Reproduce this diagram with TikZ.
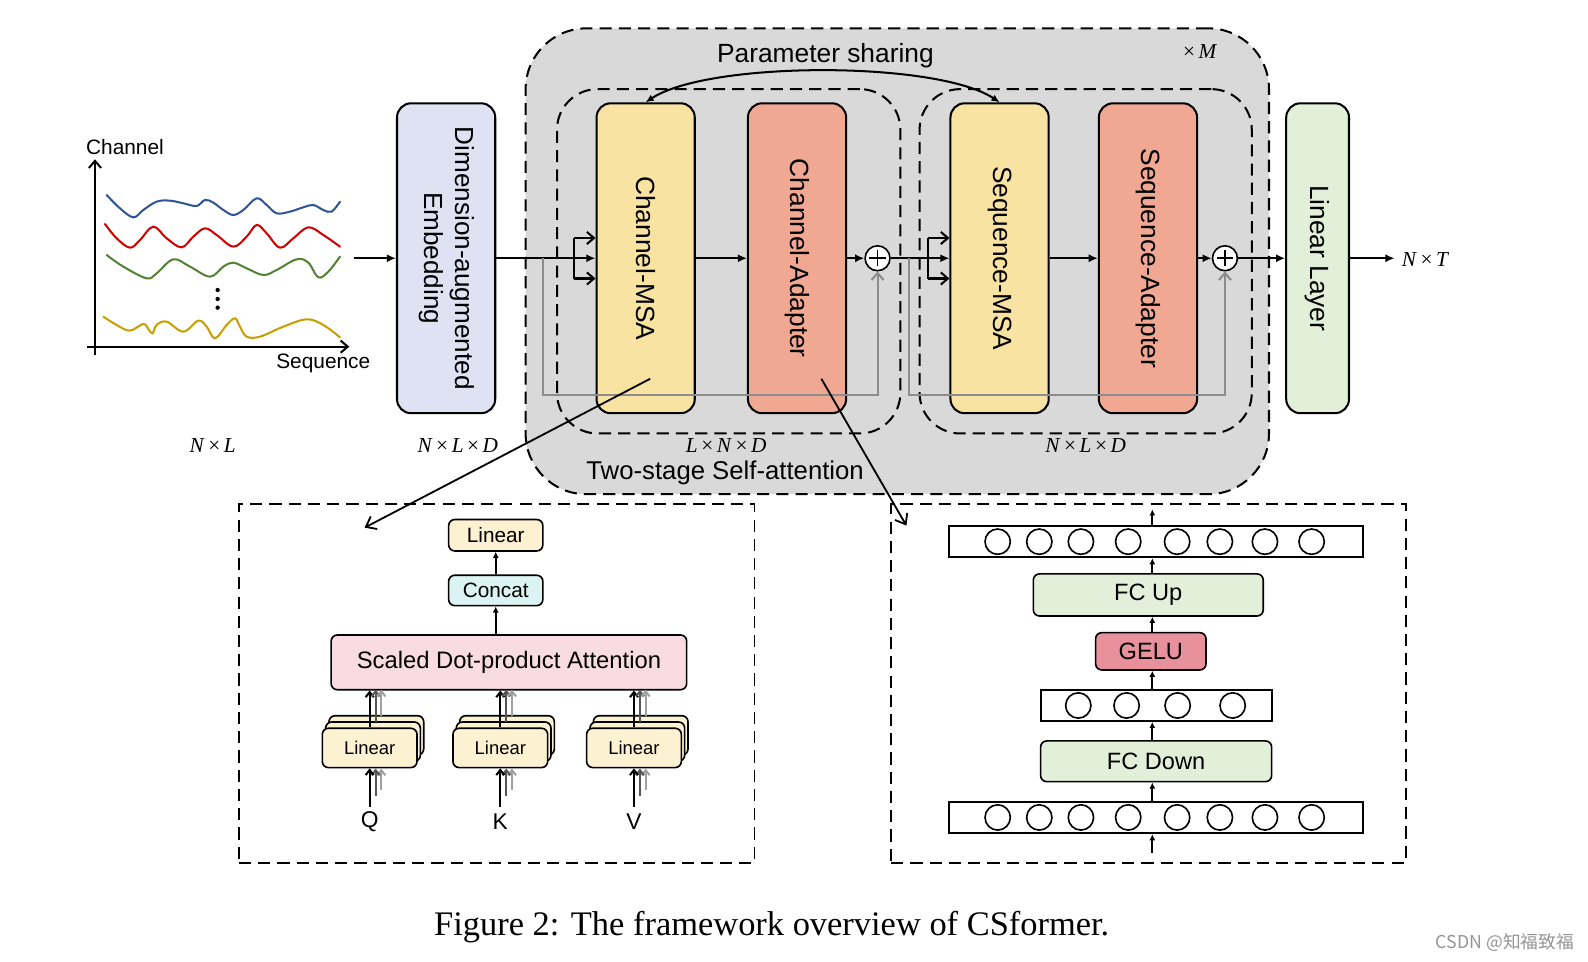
\documentclass[tikz,border=0pt]{standalone}
\usepackage{fontspec}
\usepackage{graphicx}
\setmainfont{Liberation Sans}
\newfontfamily\tms{Liberation Serif}
\newfontfamily\cjk{Noto Sans CJK SC}
\usetikzlibrary{arrows.meta,calc}
\newcommand\fsz[2]{\fontsize{#1}{#2}\selectfont}
\newcommand\tm{\,\textup{×}\,}
\definecolor{gbg}{HTML}{D9D9D9}
\definecolor{lav}{HTML}{DEE2F3}
\definecolor{ylw}{HTML}{F9E3A3}
\definecolor{slm}{HTML}{F0A892}
\definecolor{lgr}{HTML}{E2F0D9}
\definecolor{crm}{HTML}{FCF1D1}
\definecolor{cyn}{HTML}{DBF3F3}
\definecolor{pnk}{HTML}{F9DCE3}
\definecolor{gelu}{HTML}{E8919D}
\definecolor{cblue}{HTML}{2F5597}
\definecolor{cred}{HTML}{D00000}
\definecolor{cgreen}{HTML}{548235}
\definecolor{cyel}{HTML}{C79F00}
\definecolor{resg}{HTML}{8C8C8C}
\definecolor{dkg}{HTML}{555555}
\definecolor{ltg}{HTML}{A0A0A0}
\tikzset{
  blk/.style={draw=black, line width=2pt, rounded corners=14pt, minimum width=97pt, minimum height=306pt, inner sep=0pt, font=\fsz{26}{30}},
  dsh/.style={draw=black, line width=2pt, dash pattern=on 12pt off 7pt},
  arr/.style={line width=2pt, -{Latex[length=9pt,width=8pt]}},
  barb/.style={line width=2pt, -{Straight Barb[length=7pt,width=12pt]}},
  res/.style={line width=2pt, draw=resg, -{Straight Barb[length=7pt,width=12pt]}},
  sbox/.style={draw=black, line width=1.6pt, rounded corners=6pt, inner sep=0pt},
  stk/.style={sbox, fill=crm, minimum width=93.5pt, minimum height=38.8pt, font=\fsz{18.2}{21}},
  lay/.style={draw=black, line width=1.8pt, inner sep=0pt},
  neu/.style={circle, draw=black, line width=1.6pt, fill=white, minimum size=25pt, inner sep=0pt},
  sa/.style={line width=1.8pt, -{Latex[length=6pt,width=6pt]}},
  ka/.style={line width=2pt, -{Straight Barb[length=5pt,width=8pt]}},
  mlab/.style={font=\tms\fsz{21}{25}},
  crv/.style={line width=2pt, line cap=round},
  zl/.style={line width=1.8pt, -{Straight Barb[length=9pt,width=14pt]}},
}
\begin{document}
\begin{tikzpicture}[x=1pt,y=-1pt, every node/.style={inner sep=0pt}]
\useasboundingbox (0,0) rectangle (1568,949);

% ---------------- chart
\begin{scope}[shift={(69.11,118.48)}, x=0.32912pt, y=-0.32912pt]
  \draw[line width=2pt, -{Straight Barb[length=7pt,width=12pt]}] (75,705) -- (75,118);
  \draw[line width=2pt, -{Straight Barb[length=7pt,width=12pt]}] (52,680) -- (838,680);
  \node[font=\fsz{20.6}{24}] (chl) at (165,80) {Channel};
  \node[font=\fsz{20.6}{24}] (sql) at (760,730) {Sequence};
  \draw[crv, cblue] plot[smooth, tension=0.6] coordinates {(110,225) (150,265) (190,292) (220,270) (260,245) (300,242) (340,250) (380,258) (405,240) (430,248) (460,270) (490,285) (520,270) (560,235) (590,255) (620,280) (660,275) (700,262) (730,255) (760,270) (785,275) (810,245)};
  \draw[crv, cred] plot[smooth, tension=0.6] coordinates {(105,312) (140,355) (180,383) (210,360) (250,320) (290,355) (335,382) (370,350) (405,325) (440,345) (490,380) (530,350) (560,315) (590,340) (630,383) (670,355) (715,322) (760,345) (810,380)};
  \draw[crv, cgreen] plot[smooth, tension=0.6] coordinates {(110,405) (160,440) (230,475) (260,460) (310,418) (360,440) (420,470) (460,440) (490,428) (530,445) (580,465) (620,450) (680,418) (715,428) (745,472) (775,455) (810,410)};
  \draw[crv, cyel] plot[smooth, tension=0.6] coordinates {(100,590) (140,615) (180,632) (220,612) (237,630) (248,640) (260,615) (290,605) (340,635) (385,602) (410,620) (435,655) (470,615) (495,595) (510,620) (530,650) (570,650) (640,620) (710,598) (760,615) (810,652)};
  \fill (443,510) circle (6.5) (443,537) circle (6.5) (443,563) circle (6.5);
\end{scope}

% ---------------- outer frames
\node[dsh, fill=gbg, rounded corners=60pt, minimum width=734pt, minimum height=460pt] (outer) at (886,258) {};
\node[dsh, rounded corners=40pt, minimum width=339pt, minimum height=340pt] (in1) at (719.5,258) {};
\node[dsh, rounded corners=40pt, minimum width=328pt, minimum height=340pt] (in2) at (1072,258) {};

% ---------------- main blocks
\node[blk, fill=lav, font=\fsz{25.8}{30}] (emb) at (440.5,255) {\rotatebox{-90}{\begin{tabular}{@{}c@{}}Dimension-augmented\\Embedding\end{tabular}}};
\node[blk, fill=ylw] (cmsa) at (637.5,255) {\rotatebox{-90}{Channel-MSA}};
\node[blk, fill=slm] (cad) at (787,255) {\rotatebox{-90}{Channel-Adapter}};
\node[blk, fill=ylw] (smsa) at (987,255) {\rotatebox{-90}{Sequence-MSA}};
\node[blk, fill=slm] (sad) at (1133.5,255) {\rotatebox{-90}{Sequence-Adapter}};
\node[blk, fill=lgr, minimum width=62pt] (lin) at (1301,255) {\rotatebox{-90}{Linear Layer}};

\node[circle, draw=black, line width=1.6pt, fill=white, minimum size=24.6pt] (p1) at (866.5,255) {};
\node[circle, draw=black, line width=1.6pt, fill=white, minimum size=24.6pt] (p2) at (1209.5,255) {};
\draw[line width=1.6pt] ($(p1)+(0,-8)$) -- ($(p1)+(0,8)$) ($(p1)+(-8,0)$) -- ($(p1)+(8,0)$);
\draw[line width=1.6pt] ($(p2)+(0,-8)$) -- ($(p2)+(0,8)$) ($(p2)+(-8,0)$) -- ($(p2)+(8,0)$);

% main flow
\coordinate (src) at (350,255);
\draw[arr] (src) -- (emb.west);
\draw[arr] (emb.east) -- (cmsa.west);
\coordinate (b1t) at (567,235);
\coordinate (b1b) at (567,275);
\draw[line width=2pt] (b1t) -- (b1b);
\draw[barb] (b1t) -- (b1t -| cmsa.west);
\draw[barb] (b1b) -- (b1b -| cmsa.west);
\draw[arr] (cmsa.east) -- (cad.west);
\draw[arr] (cad.east) -- (p1.west);
\draw[arr] (p1.east) -- (smsa.west);
\coordinate (b2t) at (916,235);
\coordinate (b2b) at (916,275);
\draw[line width=2pt] (b2t) -- (b2b);
\draw[barb] (b2t) -- (b2t -| smsa.west);
\draw[barb] (b2b) -- (b2b -| smsa.west);
\draw[arr] (smsa.east) -- (sad.west);
\draw[arr] (sad.east) -- (p2.west);
\draw[arr] (p2.east) -- (lin.west);
\coordinate (outp) at (1377,255);
\draw[arr] (lin.east) -- (outp);

% residuals
\coordinate (r1) at (536,255);
\draw[res] (r1) -- (536,390) -| (p1.south);
\coordinate (r2) at (897.5,255);
\draw[res] (r2) -- (897.5,390) -| (p2.south);

% parameter sharing
\draw[line width=2pt, {Latex[length=8pt,width=7pt]}-{Latex[length=8pt,width=7pt]}] (cmsa.north) .. controls (700,60) and (925,60) .. (smsa.north);
\node[font=\fsz{26}{30}] (psl) at (815,55) {Parameter sharing};
\node[font=\tms\fsz{21}{25}] (xm) at (1185,51) {\textup{×}\,\textit{M}};
\node[font=\fsz{25.4}{30}] (tss) at (716,467) {Two-stage Self-attention};

% dimension labels
\node[mlab] (d1) at (210,440) {\textit{N}\tm\textit{L}};
\node[mlab] (d2) at (452,440) {\textit{N}\tm\textit{L}\tm\textit{D}};
\node[mlab] (d3) at (717,440) {\textit{L}\tm\textit{N}\tm\textit{D}};
\node[mlab] (d4) at (1072,440) {\textit{N}\tm\textit{L}\tm\textit{D}};
\node[mlab, anchor=west] (d5) at (1384,256) {\textit{N}\tm\textit{T}};

% ---------------- bottom-left box (MSA detail)
\node[dsh, line width=1.8pt, minimum width=509pt, minimum height=354pt] (bl) at (490.5,675) {};
\node[sbox, fill=crm, minimum width=93pt, minimum height=31pt, font=\fsz{20.5}{24}] (linT) at (489.5,528.5) {Linear};
\node[sbox, fill=cyn, minimum width=93pt, minimum height=30pt, font=\fsz{20.5}{24}] (cat) at (489.5,583) {Concat};
\node[sbox, fill=pnk, minimum width=351pt, minimum height=54pt, font=\fsz{23.5}{28}] (att) at (502.5,654) {Scaled Dot-product Attention};
\draw[sa] (cat.south |- att.north) -- (cat.south);
\draw[sa] (cat.north) -- (linT.south);

\foreach \n/\x/\t in {q/365/Q, k/494/K, v/626/V}{
  \node[stk] (\n3) at (\x+6.6,726.1) {};
  \node[stk] (\n2) at (\x+3.3,732.3) {};
  \node[stk] (\n1) at (\x,738.5) {Linear};
  \node[font=\fsz{22.5}{26}] (\n l) at (\x,811) {\t};
  \draw[ka] (\n1.north) -- (\n1.north |- att.south);
  \draw[ka, draw=dkg] (\x+5.9,712.9) -- (\x+5.9,681);
  \draw[ka, draw=ltg] (\x+11.5,706.7) -- (\x+11.5,681);
  \draw[ka, draw=ltg] (\x+11.5,780) -- (\x+11.5,758.9);
  \draw[ka, draw=dkg] (\x+5.9,786) -- (\x+5.9,758.9);
  \draw[ka] (\x,796.5) -- (\n1.south);
}

% ---------------- bottom-right box (Adapter detail)
\node[dsh, line width=1.8pt, minimum width=508pt, minimum height=354pt] (br) at (1134,675) {};
\node[lay, minimum width=408.7pt, minimum height=31pt] (L3) at (1141.65,534.85) {};
\node[sbox, fill=lgr, minimum width=227pt, minimum height=41.5pt, font=\fsz{23.3}{28}] (fcu) at (1133.8,587.45) {FC Up};
\node[sbox, fill=gelu, minimum width=109pt, minimum height=36.8pt, font=\fsz{23.3}{28}] (gelu) at (1136.3,643.1) {GELU};
\node[lay, minimum width=228.1pt, minimum height=30.6pt] (L2) at (1141.55,696.6) {};
\node[sbox, fill=lgr, minimum width=228.1pt, minimum height=40.2pt, font=\fsz{23.3}{28}] (fcd) at (1141.55,751.7) {FC Down};
\node[lay, minimum width=408.7pt, minimum height=31.3pt] (L1) at (1141.65,807.15) {};
\foreach \cx [count=\i] in {985.1,1026.2,1067.3,1114,1162.3,1204.5,1249,1295.1}{
  \node[neu] (t\i) at (\cx,534.85) {};
  \node[neu] (b\i) at (\cx,807.15) {};
}
\foreach \cx [count=\i] in {1064.7,1112.4,1162.8,1217.1}{
  \node[neu] (m\i) at (\cx,696.6) {};
}
\coordinate (bin) at (1137.8,842.5);
\coordinate (bout) at (1137.8,503);
\draw[sa] (bin) -- (bin |- L1.south);
\draw[sa] (bin |- L1.north) -- (bin |- fcd.south);
\draw[sa] (bin |- fcd.north) -- (bin |- L2.south);
\draw[sa] (bin |- L2.north) -- (bin |- gelu.south);
\draw[sa] (bin |- gelu.north) -- (bin |- fcu.south);
\draw[sa] (bin |- fcu.north) -- (bin |- L3.south);
\draw[sa] (bin |- L3.north) -- (bout);

% ---------------- zoom pointers
\coordinate (z1s) at (642,374);
\coordinate (z1e) at (360,521);
\coordinate (z2s) at (811,374);
\coordinate (z2e) at (895,519);
\draw[zl] (z1s) -- (z1e);
\draw[zl] (z2s) -- (z2e);

% ---------------- caption and watermark
\node[font=\tms\fsz{34}{40}] (cap) at (762,915) {Figure 2: The framework overview of CSformer.};
\node[font=\cjk\fsz{17.5}{20}, text=black!42] (wm) at (1486,931) {CSDN @知福致福};
\end{tikzpicture}
\end{document}
